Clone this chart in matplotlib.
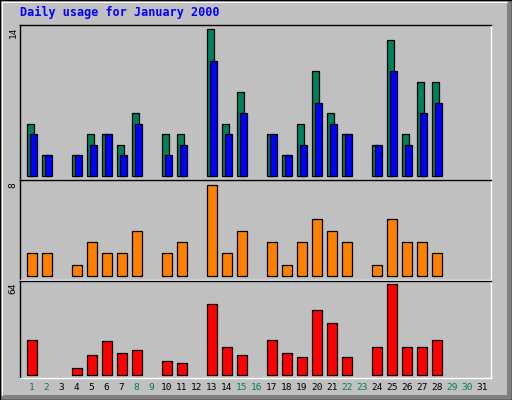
import matplotlib.pyplot as plt
import matplotlib.transforms as mtransforms
from matplotlib.patches import Rectangle
from matplotlib.lines import Line2D

days = list(range(1, 32))
hits = [5, 2, 0, 2, 4, 4, 3, 6, 0, 4, 4, 0, 14, 5, 8, 0,
        4, 2, 5, 10, 6, 4, 0, 3, 13, 4, 9, 9, 0, 0, 0]
files = [4, 2, 0, 2, 3, 4, 2, 5, 0, 2, 3, 0, 11, 4, 6, 0,
         4, 2, 3, 7, 5, 4, 0, 3, 10, 3, 6, 7, 0, 0, 0]
sites = [2, 2, 0, 1, 3, 2, 2, 4, 0, 2, 3, 0, 8, 2, 4, 0,
         3, 1, 3, 5, 4, 3, 0, 1, 5, 3, 3, 2, 0, 0, 0]
kbytes = [25, 0, 0, 5, 14, 24, 16, 18, 0, 10, 9, 0, 50, 20, 14, 0,
          25, 16, 13, 46, 37, 13, 0, 20, 64, 20, 20, 25, 0, 0, 0]
weekend = [1, 2, 8, 9, 15, 16, 22, 23, 29, 30]

BG = '#C0C0C0'
W, H = 512, 400

fig = plt.figure(figsize=(W / 100, H / 100), dpi=100, facecolor=BG)

# outer 3D frame
px = 1.0 / W
py = 1.0 / H
fig.patches.append(Rectangle((1 - 5 * px, 0), 5 * px, 1, transform=fig.transFigure,
                             facecolor='#808080', edgecolor='none'))
fig.patches.append(Rectangle((0, 0), 1, 5 * py, transform=fig.transFigure,
                             facecolor='#808080', edgecolor='none'))
fig.lines.append(Line2D([1.5 * px, 1.5 * px], [5 * py, 1 - 1.5 * py], transform=fig.transFigure,
                        color='white', lw=0.72))
fig.lines.append(Line2D([1.5 * px, 1 - 5 * px], [1 - 1.5 * py, 1 - 1.5 * py], transform=fig.transFigure,
                        color='white', lw=0.72))
fig.patches.append(Rectangle((0, 0), 1, 1, transform=fig.transFigure,
                             facecolor='none', edgecolor='black', lw=1.0))


def panel(top, bottom):
    ax = fig.add_axes([20.3 / W, 1 - bottom / H, 470.4 / W, (bottom - top) / H])
    ax.set_facecolor(BG)
    ax.spines['left'].set_color('black')
    ax.spines['top'].set_color('black')
    ax.spines['right'].set_color('white')
    ax.spines['bottom'].set_color('white')
    for s in ax.spines.values():
        s.set_linewidth(1.0)
    ax.set_xticks([])
    ax.set_yticks([])
    ax.set_xlim(0.25, 31.6)
    return ax


def nonzero(vals, shift=0.0):
    xs = [d + shift for d, v in zip(days, vals) if v > 0]
    ys = [v for v in vals if v > 0]
    return xs, ys


ax1 = panel(25, 179.5)
x, y = nonzero(hits, -0.1)
ax1.bar(x, y, width=0.47, color='#00805C', edgecolor='black', lw=0.9)
x, y = nonzero(files, 0.1)
ax1.bar(x, y, width=0.47, color='#0000FF', edgecolor='black', lw=0.9)
ax1.set_ylim(-0.3, 14.41)

ax2 = panel(180.5, 279.5)
x, y = nonzero(sites)
ax2.bar(x, y, width=0.67, color='#FF8000', edgecolor='black', lw=0.9)
ax2.set_ylim(-0.28, 8.37)

ax3 = panel(280.5, 378)
x, y = nonzero(kbytes)
ax3.bar(x, y, width=0.67, color='#FF0000', edgecolor='black', lw=0.9)
ax3.set_ylim(-1.9, 66.7)

# title
fig.text(20 / W, 1 - 6 / H, 'Daily usage for January 2000', color='#0000FF',
         fontsize=8.5, fontweight='bold', family='DejaVu Sans Mono', ha='left', va='top')

# max labels
for label, ytop in [(str(max(hits)), 27), (str(max(sites)), 182), (str(max(kbytes)), 282)]:
    fig.text(13 / W, 1 - ytop / H, label, rotation=90, fontsize=6.8,
             family='DejaVu Sans Mono', ha='center', va='top', color='black')

# day labels
trans = mtransforms.blended_transform_factory(ax3.transData, fig.transFigure)
for d in days:
    c = '#00805C' if d in weekend else 'black'
    ax3.text(d, 1 - 388 / H, str(d), transform=trans, ha='center', va='center',
             fontsize=6.8, family='DejaVu Sans Mono', color=c)

plt.savefig('out.png', dpi=100, facecolor=BG)
